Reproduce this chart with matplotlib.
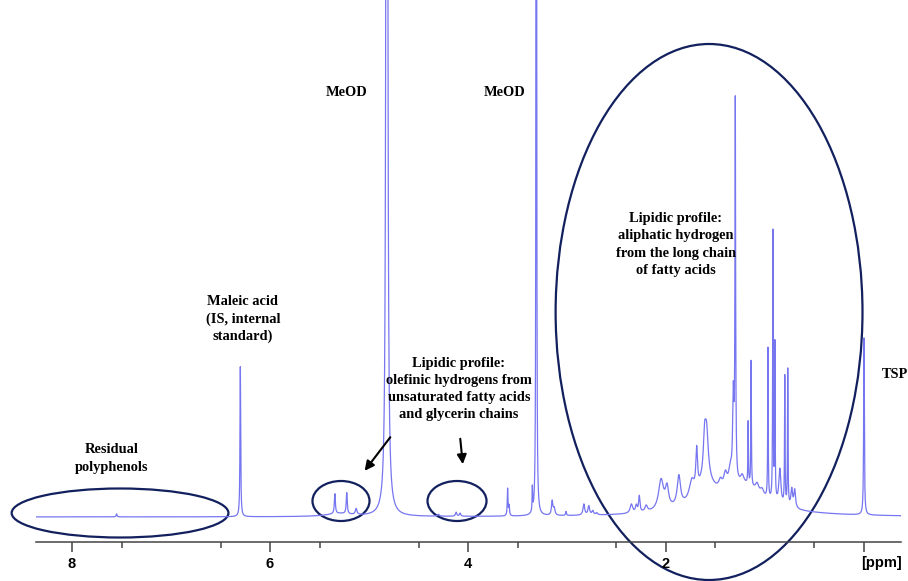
import numpy as np
import matplotlib
matplotlib.use("Agg")
import matplotlib.pyplot as plt
from matplotlib.patches import Ellipse

# peak list: position (ppm), height (px above baseline), half width (ppm)
peak_ppm = [7.55, 6.30,
            5.345, 5.225, 5.13, 5.30,
            4.82, 4.82,
            4.30, 4.12, 4.08,
            3.60, 3.585, 3.35, 3.31, 3.15, 3.13, 3.01,
            2.83, 2.78, 2.74, 2.70,
            2.35, 2.30, 2.27, 2.20,
            2.05, 1.99, 1.87, 1.74,
            1.69, 1.61, 1.59, 1.60,
            1.45, 1.40, 1.35, 1.32, 1.30,
            1.23, 1.17, 1.14, 1.08, 1.03,
            0.97, 0.92, 0.90, 0.85,
            0.80, 0.77, 0.73, 0.70,
            1.30, 1.20, 0.00]
peak_height = [3, 150,
               20, 21, 6, 3,
               6000, 8,
               2, 4, 3,
               27, 10, 24, 5000, 14, 7, 4,
               11, 9, 4, 2,
               9, 7, 16, 6,
               30, 20, 30, 18,
               40, 35, 45, 22,
               8, 14, 16, 85, 375,
               8, 62, 125, 8, 6,
               150, 268, 155, 35,
               128, 136, 18, 18,
               16, 15, 177]
peak_width = [0.005, 0.004,
              0.006, 0.006, 0.01, 0.15,
              0.0035, 0.05,
              0.01, 0.008, 0.008,
              0.004, 0.005, 0.003, 0.0015, 0.008, 0.01, 0.005,
              0.01, 0.01, 0.01, 0.01,
              0.015, 0.01, 0.008, 0.015,
              0.03, 0.02, 0.02, 0.03,
              0.01, 0.015, 0.02, 0.1,
              0.02, 0.02, 0.02, 0.008, 0.004,
              0.02, 0.003, 0.003, 0.02, 0.02,
              0.003, 0.003, 0.003, 0.012,
              0.003, 0.003, 0.01, 0.01,
              0.42, 0.2, 0.004]

ppm = np.linspace(8.364, -0.374, 40000)
intensity = np.zeros_like(ppm)
for p, h, w in zip(peak_ppm, peak_height, peak_width):
    intensity += h * w**2 / ((ppm - p)**2 + w**2)

fig = plt.figure(figsize=(9.08, 5.81), dpi=100)
ax = fig.add_axes([36/908, 39/581, 865/908, 542/581])
ax.plot(ppm, intensity, color='#7676f0', lw=0.9)
ax.set_xlim(8.364, -0.374)
ax.set_ylim(-25, 517)

for s in ['top', 'left', 'right']:
    ax.spines[s].set_visible(False)
ax.spines['bottom'].set_color('#444444')
ax.spines['bottom'].set_linewidth(1.1)
ax.set_yticks([])
ax.set_xticks([8, 6, 4, 2, 0])
ax.set_xticklabels(['8', '6', '4', '2', ''])
ax.set_xticks(np.arange(0.5, 8.5, 1.0), minor=True)
ax.tick_params(axis='x', which='major', length=7.5, width=1.1, color='#444444',
               pad=3.5, labelsize=10.5)
ax.tick_params(axis='x', which='minor', length=4.5, width=1.1, color='#444444')
for lab in ax.get_xticklabels():
    lab.set_fontfamily('Liberation Sans')
    lab.set_fontweight('bold')
ax.text(-0.172, -46, '[ppm]', ha='center', va='center', fontsize=10.5,
        fontweight='bold', family='Liberation Sans', clip_on=False)

navy = '#12205e'
ellipses = [(7.515, 4, 2.19, 49), (5.283, 16, 0.576, 40),
            (4.111, 16, 0.596, 40), (1.565, 205, 3.10, 536)]
for cx, cy, w, h in ellipses:
    ax.add_patch(Ellipse((cx, cy), w, h, fill=False, ec=navy, lw=1.6, clip_on=False))

tkw = dict(ha='center', va='center', fontsize=10.4, fontweight='bold',
           family='Liberation Serif', linespacing=1.42)
ax.text(5.222, 424, 'MeOD', **tkw)
ax.text(3.626, 424, 'MeOD', **tkw)
ax.text(6.273, 198, 'Maleic acid\n(IS, internal\nstandard)', **tkw)
ax.text(4.091, 128, 'Lipidic profile:\nolefinic hydrogens from\nunsaturated fatty acids\nand glycerin chains', **tkw)
ax.text(7.596, 58.5, 'Residual\npolyphenols', **tkw)
ax.text(1.899, 272.5, 'Lipidic profile:\naliphatic hydrogen\nfrom the long chain\nof fatty acids', **tkw)
ax.text(-0.314, 142, 'TSP', **tkw)

akw = dict(arrowstyle='-|>', color='black', lw=1.5, mutation_scale=14)
ax.annotate('', xy=(5.061, 44), xytext=(4.768, 82), arrowprops=akw)
ax.annotate('', xy=(4.050, 50), xytext=(4.081, 81), arrowprops=akw)

fig.savefig('out.png', dpi=100)
